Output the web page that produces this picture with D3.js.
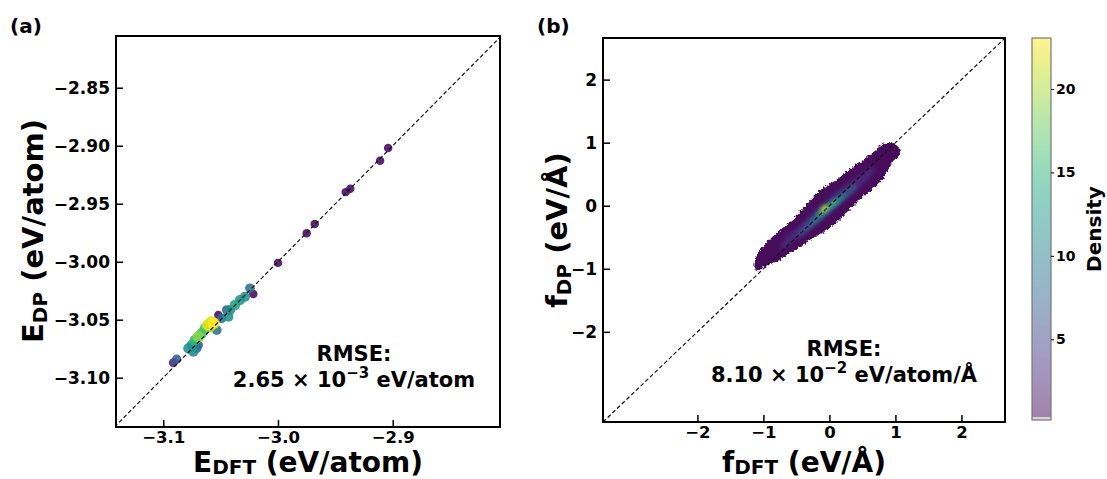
<!DOCTYPE html>
<html>
<head>
<meta charset="utf-8">
<script src="https://cdn.jsdelivr.net/npm/d3@7"></script>
<style>
body { margin: 0; background: #fff; }
text { font-family: "DejaVu Sans", sans-serif; font-weight: bold; fill: #000; }
</style>
</head>
<body>
<script>
const width = 1107;
const height = 479;

//Panel (a) energy parity points, density normalised 0-1
const eDFT  = [-2.904, -2.911, -2.941, -2.937, -2.968, -2.975, -3.000,
               -3.0244, -3.0215, -3.0288, -3.0331, -3.0375, -3.0418, -3.0447, -3.0520, -3.0433,
               -3.0491, -3.0564, -3.0593, -3.0636, -3.0534, -3.0665, -3.0695, -3.0724, -3.0752,
               -3.0782, -3.0709, -3.0695, -3.0738, -3.0883, -3.0913, -3.0610, -3.0580];
const eDP   = [-2.902, -2.913, -2.940, -2.937, -2.9675, -2.9755, -3.001,
               -3.0229, -3.0278, -3.0302, -3.0330, -3.0373, -3.0416, -3.0416, -3.0459, -3.0474,
               -3.0488, -3.0531, -3.0560, -3.0574, -3.0589, -3.0617, -3.0647, -3.0676, -3.0718,
               -3.0747, -3.0747, -3.0718, -3.0776, -3.0841, -3.0871, -3.0545, -3.0520];
const eDens = [0.02, 0.02, 0.02, 0.02, 0.02, 0.02, 0.02,
               0.36, 0.02, 0.50, 0.52, 0.58, 0.48, 0.33, 0.03, 0.50,
               0.35, 1.00, 0.88, 0.72, 0.38, 0.70, 0.82, 0.66, 0.52,
               0.50, 0.38, 0.30, 0.48, 0.27, 0.13, 0.95, 0.93];
const eTicksX = [-3.1, -3.0, -2.9];
const eTicksY = [-2.85, -2.90, -2.95, -3.00, -3.05, -3.10];

//Panel (b) force cloud: outline and density bands
const cloudOutline = [[-1.128,-0.887],[-1.060,-0.715],[-0.960,-0.600],[-0.860,-0.490],[-0.710,-0.355],
  [-0.560,-0.222],[-0.410,-0.060],[-0.280,0.100],[-0.150,0.235],[0.0,0.340],[0.150,0.445],[0.301,0.575],
  [0.451,0.680],[0.576,0.780],[0.702,0.880],[0.802,0.975],[0.928,0.995],[1.003,0.968],[1.078,0.883],
  [1.060,0.795],[0.965,0.710],[0.890,0.575],[0.815,0.435],[0.712,0.325],[0.560,0.188],[0.410,0.052],
  [0.260,-0.108],[0.105,-0.268],[-0.050,-0.398],[-0.200,-0.477],[-0.350,-0.582],[-0.501,-0.685],
  [-0.651,-0.785],[-0.802,-0.885],[-0.902,-0.930],[-1.003,-0.980],[-1.078,-1.025],[-1.128,-1.019]];
const bandIndigo = [[-0.72,-0.58],[-0.45,-0.31],[-0.20,-0.06],[0.10,0.22],[0.40,0.44],[0.68,0.62],
                    [0.64,0.48],[0.36,0.22],[0.05,-0.04],[-0.25,-0.33],[-0.50,-0.54],[-0.74,-0.70]];
const bandBlue   = [[-0.48,-0.44],[-0.32,-0.26],[-0.12,-0.07],[0.08,0.11],[0.28,0.27],[0.42,0.35],
                    [0.40,0.27],[0.22,0.10],[0.02,-0.09],[-0.18,-0.27],[-0.38,-0.43],[-0.50,-0.49]];
const bandTeal   = [[-0.28,-0.25],[-0.10,-0.07],[0.10,0.10],[0.24,0.20],[0.22,0.13],[0.05,-0.01],
                    [-0.12,-0.16],[-0.29,-0.30]];
const bandGreen  = [[-0.17,-0.11],[-0.02,0.01],[0.12,0.11],[0.11,0.05],[-0.04,-0.06],[-0.18,-0.16]];
const bandYellow = [[-0.13,-0.06],[-0.05,0.0],[-0.02,-0.04],[-0.11,-0.09]];
const bandLevels = [2.6, 6, 11, 16, 22];
const fTicks = [-2, -1, 0, 1, 2];

//Colorbar
const cbRange = [0.16, 23.06];
const cbTicks = [5, 10, 15, 20];

const svg = d3.select("body").append("svg")
    .attr("width", width)
    .attr("height", height);

const defs = svg.append("defs");

//Panel frames
const aBox = {x0: 116, x1: 500, y0: 36, y1: 427};
const bBox = {x0: 603, x1: 1005, y0: 38, y1: 422};

defs.append("clipPath").attr("id", "clipA").append("rect")
    .attr("x", aBox.x0).attr("y", aBox.y0).attr("width", aBox.x1 - aBox.x0).attr("height", aBox.y1 - aBox.y0);
defs.append("clipPath").attr("id", "clipB").append("rect")
    .attr("x", bBox.x0).attr("y", bBox.y0).attr("width", bBox.x1 - bBox.x0).attr("height", bBox.y1 - bBox.y0);

//Scales
const ex = d3.scaleLinear().domain([-3.1412, -2.8065]).range([aBox.x0, aBox.x1]);
const ey = d3.scaleLinear().domain([-3.1425, -2.8054]).range([aBox.y1, aBox.y0]);
const fx = d3.scaleLinear().domain([-3.43, 2.66]).range([bBox.x0, bBox.x1]);
const fy = d3.scaleLinear().domain([-3.43, 2.66]).range([bBox.y1, bBox.y0]);
const densColor = d3.scaleSequential(d3.interpolateViridis).domain([0, 1]);
const densSize = d3.scaleLinear().domain([0, 1]).range([4.2, 6]);
const cbColor = d3.scaleSequential(d3.interpolateViridis).domain(cbRange);

//Panel (a) scatter
const pts = eDFT.map((d, i) => ({x: d, y: eDP[i], c: eDens[i]}))
    .sort((a, b) => a.c - b.c);
const gA = svg.append("g").attr("clip-path", "url(#clipA)");
gA.selectAll("circle")
    .data(pts)
    .enter()
    .append("circle")
    .attr("cx", d => ex(d.x))
    .attr("cy", d => ey(d.y))
    .attr("r", d => densSize(d.c))
    .attr("fill", d => densColor(d.c))
    .attr("opacity", 0.88);
gA.append("line")
    .attr("x1", ex(-3.1425)).attr("y1", ey(-3.1425))
    .attr("x2", ex(-2.8054)).attr("y2", ey(-2.8054))
    .attr("stroke", "#111").attr("stroke-width", 1.2)
    .attr("stroke-dasharray", "4,2.5");

//Panel (b) density cloud
const rough = defs.append("filter").attr("id", "rough")
    .attr("x", "-10%").attr("y", "-10%").attr("width", "120%").attr("height", "120%");
rough.append("feTurbulence").attr("type", "fractalNoise").attr("baseFrequency", 0.4)
    .attr("numOctaves", 2).attr("seed", 3).attr("result", "noise");
rough.append("feDisplacementMap").attr("in", "SourceGraphic").attr("in2", "noise")
    .attr("scale", 5).attr("xChannelSelector", "R").attr("yChannelSelector", "G");
const soft = defs.append("filter").attr("id", "soft")
    .attr("x", "-50%").attr("y", "-50%").attr("width", "200%").attr("height", "200%");
soft.append("feGaussianBlur").attr("stdDeviation", 2);

const cloudLine = d3.line()
    .x(d => fx(d[0]))
    .y(d => fy(d[1]))
    .curve(d3.curveCatmullRomClosed);

const gB = svg.append("g").attr("clip-path", "url(#clipB)");
gB.append("path")
    .attr("d", cloudLine(cloudOutline))
    .attr("fill", cbColor(0.6))
    .attr("filter", "url(#rough)");
[bandIndigo, bandBlue, bandTeal, bandGreen, bandYellow].forEach((band, i) => {
    gB.append("path")
        .attr("d", cloudLine(band))
        .attr("fill", cbColor(bandLevels[i]))
        .attr("filter", "url(#soft)");
});
gB.append("line")
    .attr("x1", fx(-3.43)).attr("y1", fy(-3.43))
    .attr("x2", fx(2.66)).attr("y2", fy(2.66))
    .attr("stroke", "#111").attr("stroke-width", 1.2)
    .attr("stroke-dasharray", "4,2.5");

//Axes, ticks pointing inward
function drawAxes(box, xs, ys, xt, yt, xfmt, yfmt) {
    svg.append("g")
        .attr("transform", `translate(0,${box.y1})`)
        .call(d3.axisBottom(xs).tickValues(xt).tickFormat(xfmt).tickSizeInner(-7).tickSizeOuter(0).tickPadding(4))
        .call(g => g.select(".domain").remove())
        .call(g => g.selectAll("line").attr("stroke", "#000").attr("stroke-width", 1.5))
        .call(g => g.selectAll("text").style("font-size", "16.5px").attr("fill", "#000"));
    svg.append("g")
        .attr("transform", `translate(${box.x0},0)`)
        .call(d3.axisLeft(ys).tickValues(yt).tickFormat(yfmt).tickSizeInner(-7).tickSizeOuter(0).tickPadding(6))
        .call(g => g.select(".domain").remove())
        .call(g => g.selectAll("line").attr("stroke", "#000").attr("stroke-width", 1.5))
        .call(g => g.selectAll("text").style("font-size", "17px").attr("fill", "#000"));
    svg.append("rect")
        .attr("x", box.x0).attr("y", box.y0)
        .attr("width", box.x1 - box.x0).attr("height", box.y1 - box.y0)
        .attr("fill", "none").attr("stroke", "#000").attr("stroke-width", 2);
}
drawAxes(aBox, ex, ey, eTicksX, eTicksY, d3.format(".1f"), d3.format(".2f"));
drawAxes(bBox, fx, fy, fTicks, fTicks, d3.format("d"), d3.format("d"));

//Colorbar
const cb = {x: 1032, y0: 38, y1: 420, w: 19};
const cbY = d3.scaleLinear().domain(cbRange).range([cb.y1, cb.y0]);
const grad = defs.append("linearGradient").attr("id", "cbGrad")
    .attr("x1", 0).attr("y1", 1).attr("x2", 0).attr("y2", 0);
d3.range(0, 1.0001, 0.05).forEach(t => {
    grad.append("stop").attr("offset", t).attr("stop-color", d3.interpolateViridis(t));
});
svg.append("rect")
    .attr("x", cb.x).attr("y", cb.y0).attr("width", cb.w).attr("height", cb.y1 - cb.y0)
    .attr("fill", "url(#cbGrad)").attr("opacity", 0.5);
svg.append("rect")
    .attr("x", cb.x).attr("y", cb.y1 - 3).attr("width", cb.w).attr("height", 3)
    .attr("fill", "#d4d4d4");
svg.append("rect")
    .attr("x", cb.x).attr("y", cb.y0).attr("width", cb.w).attr("height", cb.y1 - cb.y0)
    .attr("fill", "none").attr("stroke", "#777").attr("stroke-width", 1.2);
svg.append("g")
    .attr("transform", `translate(${cb.x + cb.w},0)`)
    .call(d3.axisRight(cbY).tickValues(cbTicks).tickSizeInner(3).tickSizeOuter(0).tickPadding(2))
    .call(g => g.select(".domain").remove())
    .call(g => g.selectAll("line").attr("stroke", "#000").attr("stroke-width", 1))
    .call(g => g.selectAll("text").style("font-size", "14px").attr("fill", "#000"));
svg.append("text")
    .attr("transform", "translate(1101,229) rotate(-90)")
    .attr("text-anchor", "middle")
    .style("font-size", "20px")
    .text("Density");

//Panel letters
svg.append("text").attr("x", 10).attr("y", 33).style("font-size", "20px").text("(a)");
svg.append("text").attr("x", 537).attr("y", 33).style("font-size", "20px").text("(b)");

//Axis titles with subscripts
function axisTitle(x, y, rot, main, sub, rest, size, drop) {
    const t = svg.append("text")
        .attr("transform", `translate(${x},${y}) rotate(${rot})`)
        .attr("text-anchor", "middle")
        .style("font-size", size + "px");
    t.append("tspan").text(main);
    t.append("tspan").attr("dy", drop).style("font-size", "20px").text(sub);
    t.append("tspan").attr("dy", -drop).text(rest);
}
axisTitle(308, 472, 0, "E", "DFT", " (eV/atom)", 28, 2);
axisTitle(43, 231, -90, "E", "DP", " (eV/atom)", 29, 4);
axisTitle(804, 472, 0, "f", "DFT", " (eV/Å)", 28, 2);
axisTitle(567, 230, -90, "f", "DP", " (eV/Å)", 29, 4);

//RMSE annotations
function rmse(cx, y, mant, expo, unit) {
    svg.append("text").attr("x", cx).attr("y", y)
        .attr("text-anchor", "middle").style("font-size", "21px").text("RMSE:");
    const t = svg.append("text").attr("x", cx).attr("y", y + 26)
        .attr("text-anchor", "middle").style("font-size", "21px");
    t.append("tspan").text(mant + " × 10");
    t.append("tspan").attr("dy", -9).style("font-size", "15px").text(expo);
    t.append("tspan").attr("dy", 9).text(" " + unit);
}
rmse(354, 361, "2.65", "−3", "eV/atom");
rmse(844, 356, "8.10", "−2", "eV/atom/Å");
</script>
</body>
</html>
